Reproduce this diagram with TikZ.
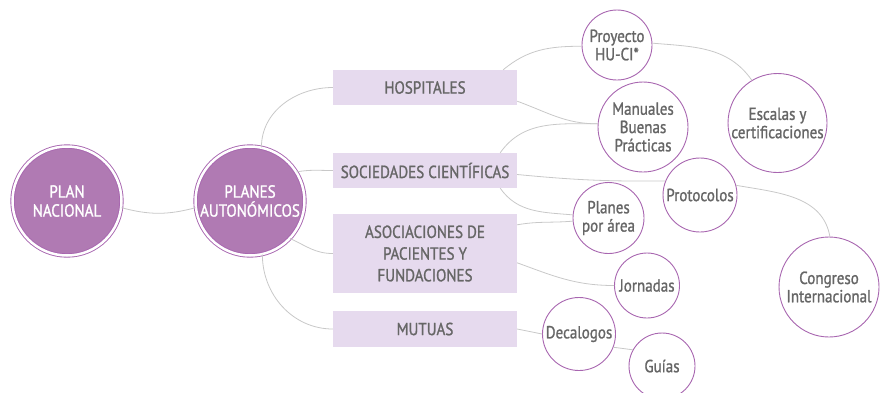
\documentclass[tikz,border=0pt]{standalone}
\usepackage{fontspec}
\setmainfont{PT Sans}[FakeStretch=0.86,FakeBold=1.2]
\definecolor{planfill}{HTML}{B07AB3}
\definecolor{ringcol}{HTML}{A866B0}
\definecolor{boxfill}{HTML}{E6DAEE}
\definecolor{txtgray}{HTML}{666666}
\definecolor{linegray}{HTML}{C8C8C8}

\begin{document}
\begin{tikzpicture}[x=1pt,y=-1pt]
		\tikzstyle{plan}=[circle,fill=planfill,draw=ringcol,double=white,double distance=2.5pt,line width=0.9pt,text=white,align=center,inner sep=0pt,minimum size=109pt,font=\fontsize{17.5}{19}\selectfont]
		\tikzstyle{sector}=[rectangle,fill=boxfill,text=txtgray,align=center,minimum width=184pt,inner sep=0pt,font=\fontsize{17.5}{21.7}\selectfont]
		\tikzstyle{item}=[circle,draw=ringcol,line width=0.9pt,fill=white,text=txtgray,align=center,inner sep=0pt,font=\fontsize{17.5}{18.3}\selectfont]
		\tikzstyle{edge}=[draw,linegray,line width=0.8pt]
		\useasboundingbox (0,0) rectangle (882,392);

		% planes
		\node [plan] (nac) at (67,201) {PLAN\\NACIONAL};
		\node [plan] (aut) at (250,201) {PLANES\\AUTONÓMICOS};

		% sectores
		\node [sector,minimum height=35pt] (hosp) at (425,87.5) {HOSPITALES};
		\node [sector,minimum height=35pt] (soc) at (425,170.5) {SOCIEDADES CIENTÍFICAS};
		\node [sector,minimum height=79pt] (asoc) at (425,253.5) {ASOCIACIONES DE\\PACIENTES Y\\FUNDACIONES};
		\node [sector,minimum height=36pt] (mut) at (425,329) {MUTUAS};

		% acciones
		\node [item,minimum size=70pt] (proy) at (617,45) {Proyecto\\HU-CI*};
		\node [item,minimum size=90pt] (man) at (643,127) {Manuales\\Buenas\\Prácticas};
		\node [item,minimum size=99pt] (esc) at (777.5,123) {Escalas y\\certificaciones};
		\node [item,minimum size=74pt] (prot) at (700,195) {Protocolos};
		\node [item,minimum size=71pt] (plarea) at (608.5,218) {Planes\\por área};
		\node [item,minimum size=65pt] (jorn) at (647,285.5) {Jornadas};
		\node [item,minimum size=100pt] (cong) at (829,287) {Congreso\\Internacional};
		\node [item,minimum size=73pt] (dec) at (579,334) {Decalogos};
		\node [item,minimum size=66pt] (guia) at (662,366) {Guías};

		\path[edge] (nac.-7) to[bend right=15] (aut.187);
		\path[edge] (aut.78) to[out=90,in=180] (hosp.west);
		\path[edge] (aut.32) to[out=10,in=180] (soc.west);
		\path[edge] (aut.-43) to[out=-25,in=180] (asoc.west);
		\path[edge] (aut.-77) to[out=-90,in=180] (mut.west);

		\path[edge] ([xshift=-14pt]hosp.north east) to[out=40,in=180] (proy.182);
		\path[edge] ([yshift=4pt]hosp.south east) to[out=-20,in=180] (man.176);
		\path[edge] (proy.3) to[out=-5,in=125] (esc.121);

		\path[edge] ([xshift=-17pt]soc.north east) to[out=55,in=180] (man.176);
		\path[edge] ([yshift=-4pt]soc.east) to[bend right=3] (prot.158);
		\path[edge] ([xshift=-17pt]soc.south east) to[out=-55,in=175] (plarea.175);
		\path[edge] (prot.15) to[out=-10,in=100] (cong.89);

		\path[edge] ([yshift=-11pt]asoc.north east) to[out=10,in=185] (plarea.185);
		\path[edge] ([yshift=-49pt]asoc.north east) to[out=-20,in=180] (jorn.west);

		\path[edge] (mut.east) to (dec.west);
		\path[edge] (dec.-21) to (guia.151);
\end{tikzpicture}
\end{document}
